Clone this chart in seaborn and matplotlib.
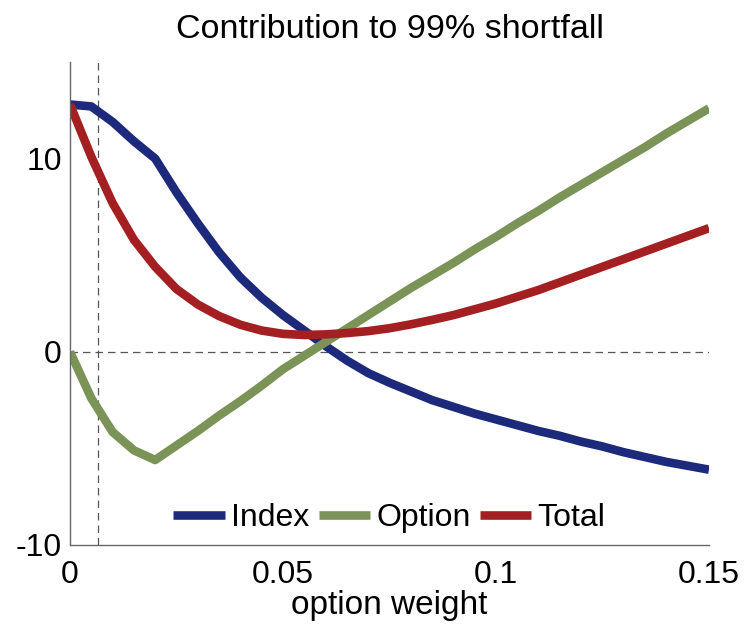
import numpy as np
import pandas as pd
import matplotlib
matplotlib.use("Agg")
import matplotlib.pyplot as plt
import seaborn as sns

# option weight grid
weights = [0.000, 0.005, 0.010, 0.015, 0.020, 0.025, 0.030, 0.035, 0.040, 0.045,
           0.050, 0.055, 0.060, 0.065, 0.070, 0.075, 0.080, 0.085, 0.090, 0.095,
           0.100, 0.105, 0.110, 0.115, 0.120, 0.125, 0.130, 0.135, 0.140, 0.145,
           0.150]

# contribution of each position to the 99% expected shortfall
index_contrib = [12.8, 12.7, 11.9, 10.9, 10.0, 8.25, 6.65, 5.15, 3.85, 2.8,
                 1.9, 1.1, 0.3, -0.45, -1.1, -1.6, -2.05, -2.5, -2.85, -3.2,
                 -3.5, -3.8, -4.1, -4.35, -4.65, -4.9, -5.2, -5.45, -5.7, -5.9,
                 -6.1]
option_contrib = [0.0, -2.4, -4.15, -5.1, -5.6, -4.85, -4.1, -3.3, -2.55, -1.75,
                  -0.9, -0.2, 0.5, 1.2, 1.9, 2.6, 3.3, 3.95, 4.6, 5.3,
                  5.95, 6.65, 7.3, 8.0, 8.65, 9.3, 9.95, 10.6, 11.3, 11.95,
                  12.6]
total_contrib = [12.8, 10.1, 7.7, 5.8, 4.4, 3.25, 2.45, 1.85, 1.4, 1.1,
                 0.93, 0.87, 0.9, 0.97, 1.07, 1.22, 1.42, 1.65, 1.9, 2.2,
                 2.5, 2.85, 3.2, 3.6, 4.0, 4.4, 4.8, 5.2, 5.6, 6.0,
                 6.4]

series_names = ["Index", "Option", "Total"]
series_colors = ["#1d2a7c", "#7b9356", "#a41f22"]
marked_weight = 0.0066

df = pd.DataFrame({
    "option weight": weights * 3,
    "contribution": index_contrib + option_contrib + total_contrib,
    "series": [n for n in series_names for _ in weights],
})

sns.set_style("white")
plt.rcParams["font.family"] = ["Liberation Sans", "DejaVu Sans"]
plt.rcParams["axes.unicode_minus"] = False
plt.rcParams["text.color"] = "black"
plt.rcParams["axes.labelcolor"] = "black"

FS = 23

fig = plt.figure(figsize=(7.46, 6.25), dpi=100)
ax = fig.add_axes([0.0938, 0.128, 0.8566, 0.7728])

sns.lineplot(data=df, x="option weight", y="contribution", hue="series",
             hue_order=series_names, palette=series_colors, linewidth=6.2,
             solid_capstyle="butt", solid_joinstyle="round",
             ax=ax, legend=True)

ax.axhline(0, color="#555555", lw=0.9, ls=(0, (6, 4)), zorder=0)
ax.axvline(marked_weight, color="#555555", lw=0.9, ls=(0, (6, 4)), zorder=0)

ax.set_xlim(0, 0.15)
ax.set_ylim(-10, 15)
ax.set_xticks([0, 0.05, 0.1, 0.15])
ax.set_xticklabels(["0", "0.05", "0.1", "0.15"])
ax.set_yticks([-10, 0, 10])
ax.set_yticklabels(["-10", "0", "10"])

for side in ("top", "right"):
    ax.spines[side].set_visible(False)
for side in ("left", "bottom"):
    ax.spines[side].set_color("#666666")
    ax.spines[side].set_linewidth(1.0)

ax.tick_params(direction="in", length=5, width=0.9, color="#666666",
               labelsize=FS, pad=11, labelcolor="black")
ax.tick_params(axis="y", pad=6)

ax.set_xlabel("option weight", fontsize=24, labelpad=0)
ax.set_ylabel("")
ax.set_title("Contribution to 99% shortfall", fontsize=24.5, pad=17)

handles, labels = ax.get_legend_handles_labels()
for h in handles:
    h.set_solid_capstyle("butt")
leg = ax.legend(handles, labels, ncol=3, loc="lower center",
                bbox_to_anchor=(0.5, -0.002), frameon=False, fontsize=FS,
                handlelength=1.6, handletextpad=0.2, columnspacing=0.3,
                borderaxespad=0.0)

fig.savefig("out.png", dpi=100, facecolor="white")
